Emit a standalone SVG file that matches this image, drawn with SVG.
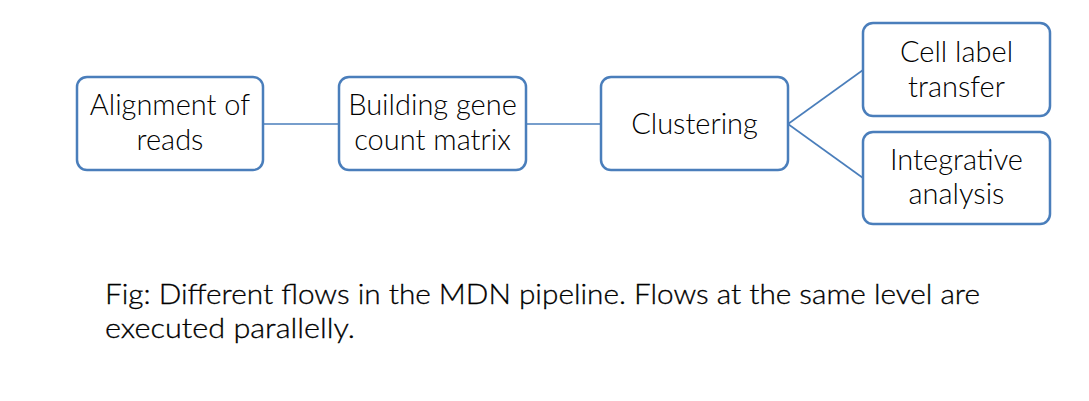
<svg xmlns="http://www.w3.org/2000/svg" width="1089" height="401" viewBox="0 0 1089 401">
<style>
.box{fill:#fff;stroke:#4a7ebb;stroke-width:2.5}
.t{font-family:Lato,"Open Sans",sans-serif;font-size:29px;font-weight:300;fill:#000;text-anchor:middle}
.c{font-family:Lato,"Open Sans",sans-serif;font-size:27px;font-weight:300;fill:#000;stroke:#000;stroke-width:0.3}
.ln{stroke:#4a7ebb;stroke-width:1.6;fill:none}
</style>
<rect width="1089" height="401" fill="#fff"/>
<g id="connectors">
<line class="ln" x1="263" y1="124" x2="339" y2="124"/>
<line class="ln" x1="526" y1="124" x2="601" y2="124"/>
<line class="ln" x1="788" y1="124" x2="863" y2="70"/>
<line class="ln" x1="788" y1="124" x2="863" y2="178"/>
</g>
<g id="n1"><rect class="box" x="77" y="77" width="186" height="93" rx="10"/>
<text class="t" x="170" y="115">Alignment of</text><text class="t" x="170" y="150">reads</text></g>
<g id="n2"><rect class="box" x="339" y="77" width="187" height="93" rx="10"/>
<text class="t" x="432.5" y="115">Building gene</text><text class="t" x="432.5" y="150">count matrix</text></g>
<g id="n3"><rect class="box" x="601" y="77" width="187" height="93" rx="10"/>
<text class="t" x="694.5" y="134">Clustering</text></g>
<g id="n4"><rect class="box" x="863" y="23" width="187" height="93" rx="10"/>
<text class="t" x="956.5" y="62">Cell label</text><text class="t" x="956.5" y="97">transfer</text></g>
<g id="n5"><rect class="box" x="863" y="132" width="187" height="92" rx="10"/>
<text class="t" x="956.5" y="170">Integrative</text><text class="t" x="956.5" y="204">analysis</text></g>
<g id="caption">
<text class="c" x="105" y="304" textLength="875" lengthAdjust="spacingAndGlyphs">Fig: Different flows in the MDN pipeline. Flows at the same level are</text>
<text class="c" x="105" y="338" textLength="250" lengthAdjust="spacingAndGlyphs">executed parallelly.</text>
</g>
</svg>
